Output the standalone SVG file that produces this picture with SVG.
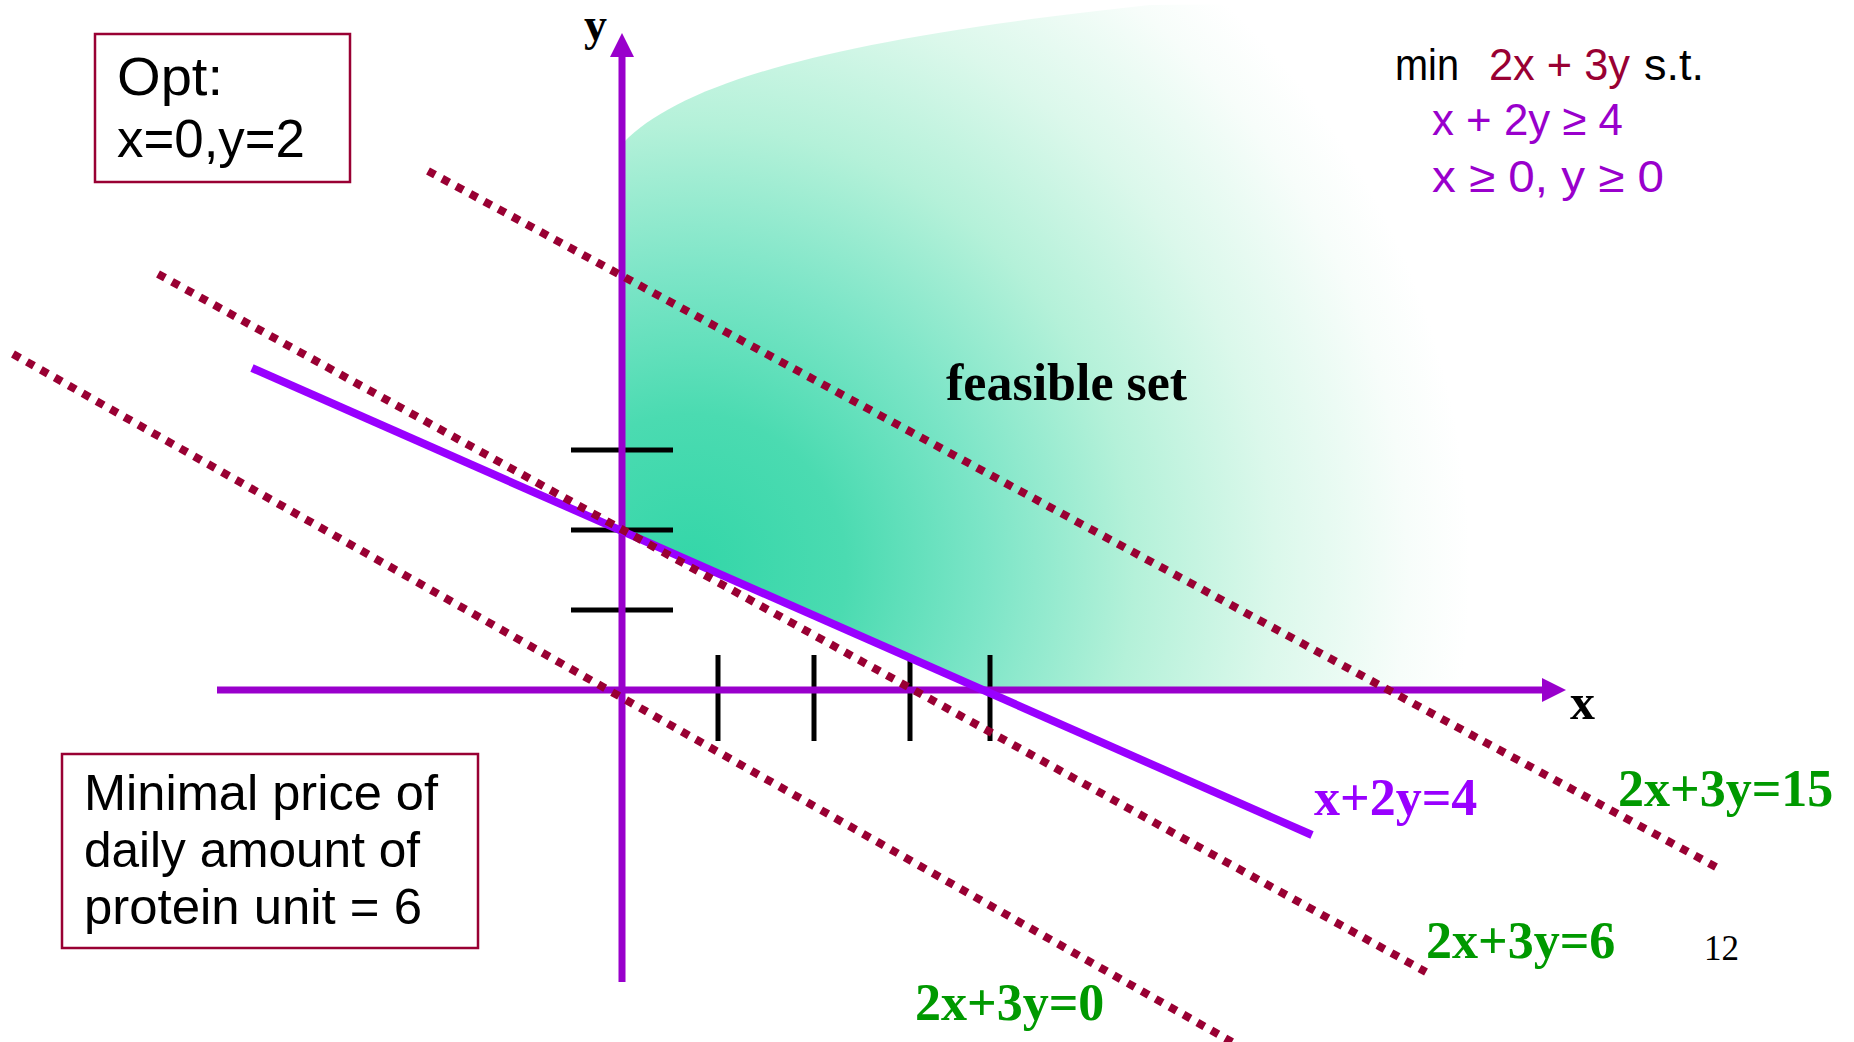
<svg xmlns="http://www.w3.org/2000/svg" width="1854" height="1042" viewBox="0 0 1854 1042">
<style>
.box{fill:#fff;stroke:#990033;stroke-width:2.5}
.hand{font-family:"Liberation Sans",Arial,sans-serif;fill:#000}
.tms{font-family:"Liberation Serif","Times New Roman",serif;font-weight:bold}
.axis{stroke:#9900CC;stroke-width:7;fill:none}
.tick{stroke:#000;stroke-width:5}
.dot{stroke:#990033;stroke-width:8;stroke-dasharray:8 8;fill:none}
.green{fill:#009900;font-size:52px}
</style>
<defs>
<radialGradient id="feas" gradientUnits="userSpaceOnUse" cx="690" cy="570" r="780">
<stop offset="0" stop-color="#33D6A8"/>
<stop offset="0.2" stop-color="#4BDBB1"/>
<stop offset="0.38" stop-color="#7CE5C7"/>
<stop offset="0.57" stop-color="#B4F1D9"/>
<stop offset="0.75" stop-color="#DBF8EB"/>
<stop offset="0.92" stop-color="#F7FDFA"/>
<stop offset="1" stop-color="#FFFFFF"/>
</radialGradient>
<marker id="arr" markerUnits="userSpaceOnUse" viewBox="0 0 24 24" markerWidth="24" markerHeight="24" refX="0" refY="12" orient="auto">
<path d="M0,0 L24,12 L0,24 Z" fill="#9900CC"/>
</marker>
</defs>
<rect width="1854" height="1042" fill="#fff"/>

<g id="feasible-set">
<path d="M624 142 C680 85 820 40 1150 5 L1700 0 L1700 690 L990 690 L622 530 Z" fill="url(#feas)"/>
<text class="tms" x="946" y="400" font-size="52" fill="#000">feasible set</text>
</g>

<g id="ticks">
<line class="tick" x1="571" y1="450" x2="673" y2="450"/>
<line class="tick" x1="571" y1="530" x2="673" y2="530"/>
<line class="tick" x1="571" y1="610" x2="673" y2="610"/>
<line class="tick" x1="718" y1="655" x2="718" y2="741"/>
<line class="tick" x1="814" y1="655" x2="814" y2="741"/>
<line class="tick" x1="910" y1="655" x2="910" y2="741"/>
<line class="tick" x1="990" y1="655" x2="990" y2="741"/>
</g>

<g id="connectors">
<line class="axis" x1="622" y1="982" x2="622" y2="57" marker-end="url(#arr)"/>
<line class="axis" x1="217" y1="690" x2="1542" y2="690" marker-end="url(#arr)"/>
<line x1="252" y1="368" x2="1312" y2="835" stroke="#9900FF" stroke-width="8"/>
<line class="dot" x1="428" y1="171" x2="1716" y2="867"/>
<line class="dot" x1="158" y1="274" x2="1426" y2="972"/>
<line class="dot" x1="13" y1="354" x2="1232" y2="1042"/>
</g>

<g id="axis-labels">
<text class="tms" x="584" y="40" font-size="46" fill="#000">y</text>
<text class="tms" x="1570" y="719" font-size="50" fill="#000">x</text>
</g>

<g id="opt-box">
<rect class="box" x="95" y="34" width="255" height="148"/>
<text class="hand" x="117" y="95" font-size="53" textLength="106" lengthAdjust="spacingAndGlyphs">Opt:</text>
<text class="hand" x="117" y="157" font-size="53" textLength="188" lengthAdjust="spacingAndGlyphs">x=0,y=2</text>
</g>

<g id="price-box">
<rect class="box" x="62" y="754" width="416" height="194"/>
<text class="hand" x="84" y="810" font-size="50" textLength="354" lengthAdjust="spacingAndGlyphs">Minimal price of</text>
<text class="hand" x="84" y="867" font-size="50" textLength="336" lengthAdjust="spacingAndGlyphs">daily amount of</text>
<text class="hand" x="84" y="924" font-size="50" textLength="338" lengthAdjust="spacingAndGlyphs">protein unit = 6</text>
</g>

<g id="problem">
<text class="hand" x="1395" y="80" font-size="44" textLength="64" lengthAdjust="spacingAndGlyphs">min</text>
<text class="hand" x="1489" y="80" font-size="44" style="fill:#990033" textLength="141" lengthAdjust="spacingAndGlyphs">2x + 3y</text>
<text class="hand" x="1644" y="80" font-size="44" textLength="60" lengthAdjust="spacingAndGlyphs">s.t.</text>
<text class="hand" x="1432" y="135" font-size="44" style="fill:#9900CC" textLength="191" lengthAdjust="spacingAndGlyphs">x + 2y ≥ 4</text>
<text class="hand" x="1432" y="192" font-size="44" style="fill:#9900CC" textLength="232" lengthAdjust="spacingAndGlyphs">x ≥ 0,  y ≥ 0</text>
</g>

<g id="line-labels">
<text class="tms" x="1314" y="815" font-size="52" fill="#9900FF">x+2y=4</text>
<text class="tms green" x="1618" y="806">2x+3y=15</text>
<text class="tms green" x="1426" y="958">2x+3y=6</text>
<text class="tms green" x="915" y="1020">2x+3y=0</text>
</g>

<g id="page-number">
<text x="1704" y="960" font-family="Liberation Serif, serif" font-size="35" fill="#000">12</text>
</g>
</svg>
